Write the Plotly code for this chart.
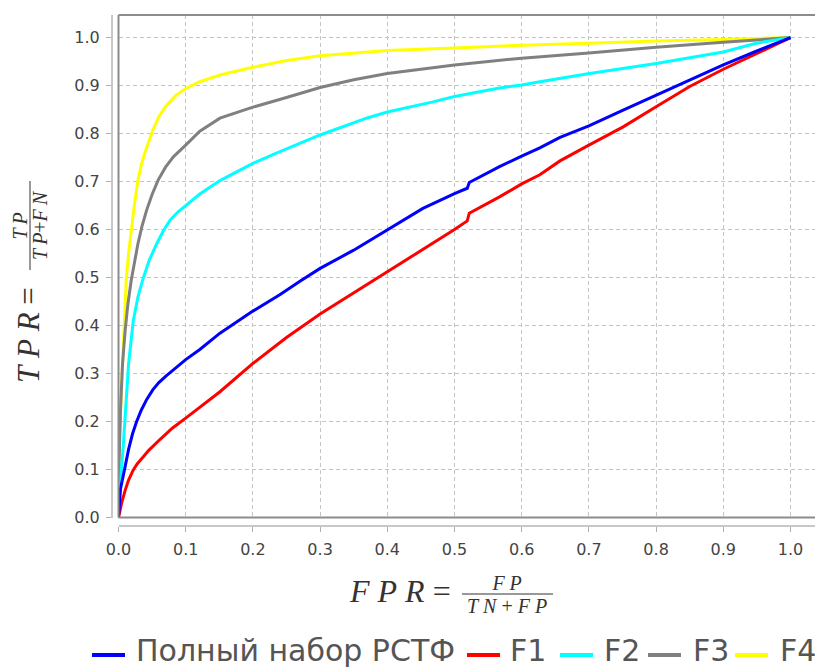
import plotly.graph_objects as go

# ROC curves: false positive rate vs true positive rate for each feature set
full_fpr = [0, 0.003, 0.01, 0.015, 0.021, 0.027, 0.034, 0.042, 0.051, 0.06, 0.071, 0.085, 0.1,
            0.121, 0.151, 0.2, 0.24, 0.27, 0.3, 0.35, 0.4, 0.453, 0.5, 0.519, 0.522, 0.567, 0.6,
            0.627, 0.657, 0.7, 0.751, 0.8, 0.85, 0.9, 0.95, 1.0]
full_tpr = [0, 0.06, 0.107, 0.142, 0.175, 0.2, 0.224, 0.246, 0.266, 0.281, 0.295, 0.312, 0.329,
            0.35, 0.384, 0.43, 0.464, 0.492, 0.519, 0.557, 0.599, 0.644, 0.675, 0.686, 0.698,
            0.731, 0.753, 0.77, 0.792, 0.816, 0.849, 0.88, 0.911, 0.943, 0.972, 1.0]

f1_fpr = [0, 0.002, 0.005, 0.01, 0.015, 0.022, 0.028, 0.036, 0.045, 0.062, 0.08, 0.1, 0.121,
          0.151, 0.2, 0.25, 0.3, 0.349, 0.4, 0.453, 0.5, 0.519, 0.522, 0.567, 0.6, 0.627, 0.657,
          0.7, 0.751, 0.8, 0.85, 0.9, 0.949, 1.0]
f1_tpr = [0, 0.016, 0.032, 0.057, 0.078, 0.099, 0.112, 0.125, 0.14, 0.163, 0.186, 0.207, 0.229,
          0.262, 0.321, 0.375, 0.424, 0.467, 0.512, 0.557, 0.6, 0.618, 0.634, 0.668, 0.695,
          0.714, 0.743, 0.776, 0.814, 0.856, 0.898, 0.934, 0.967, 1.0]

f2_fpr = [0, 0.002, 0.007, 0.011, 0.015, 0.022, 0.029, 0.036, 0.046, 0.057, 0.067, 0.077, 0.088,
          0.1, 0.121, 0.151, 0.2, 0.235, 0.27, 0.3, 0.369, 0.4, 0.468, 0.5, 0.567, 0.6, 0.627,
          0.657, 0.701, 0.8, 0.9, 0.949, 1.0]
f2_tpr = [0, 0.06, 0.147, 0.24, 0.32, 0.41, 0.46, 0.495, 0.537, 0.571, 0.598, 0.62, 0.636,
          0.65, 0.674, 0.702, 0.738, 0.759, 0.78, 0.797, 0.832, 0.845, 0.866, 0.877, 0.895,
          0.901, 0.908, 0.915, 0.925, 0.946, 0.97, 0.988, 1.0]

f3_fpr = [0, 0.001, 0.003, 0.006, 0.01, 0.014, 0.019, 0.024, 0.029, 0.035, 0.042, 0.05, 0.059,
          0.07, 0.082, 0.1, 0.121, 0.151, 0.2, 0.25, 0.3, 0.35, 0.4, 0.5, 0.6, 0.7, 0.8, 0.9,
          0.95, 1.0]
f3_tpr = [0, 0.12, 0.225, 0.32, 0.391, 0.445, 0.495, 0.535, 0.571, 0.607, 0.641, 0.673, 0.703,
          0.73, 0.752, 0.776, 0.805, 0.832, 0.855, 0.875, 0.896, 0.912, 0.925, 0.943, 0.957,
          0.968, 0.98, 0.99, 0.995, 1.0]

f4_fpr = [0, 0.001, 0.005, 0.01, 0.0115, 0.015, 0.019, 0.024, 0.029, 0.034, 0.039, 0.045, 0.051,
          0.06, 0.071, 0.085, 0.1, 0.121, 0.151, 0.2, 0.25, 0.3, 0.4, 0.5, 0.6, 0.7, 0.8, 0.9,
          1.0]
f4_tpr = [0, 0.15, 0.286, 0.426, 0.495, 0.55, 0.599, 0.655, 0.703, 0.735, 0.759, 0.785, 0.807,
          0.835, 0.858, 0.879, 0.894, 0.908, 0.922, 0.938, 0.952, 0.962, 0.973, 0.978, 0.984,
          0.988, 0.993, 0.996, 1.0]

series_names = ["Полный набор РСТФ", "F1", "F2", "F3", "F4"]
series_colors = ["#0000ff", "#ff0000", "#00ffff", "#808080", "#ffff00"]
series_data = [(full_fpr, full_tpr), (f1_fpr, f1_tpr), (f2_fpr, f2_tpr),
               (f3_fpr, f3_tpr), (f4_fpr, f4_tpr)]

tick_vals = [0.0, 0.1, 0.2, 0.3, 0.4, 0.5, 0.6, 0.7, 0.8, 0.9, 1.0]
tick_text = ["0.0", "0.1", "0.2", "0.3", "0.4", "0.5", "0.6", "0.7", "0.8", "0.9", "1.0"]

W, H = 815, 668
ML, MR, MT, MB = 112, 0, 15, 142
PW, PH = W - ML - MR, H - MT - MB


def px(x):
    return (x - ML) / PW


def py(y):
    return (H - MB - y) / PH


fig = go.Figure()
# first series is drawn last so it sits on top
for name, color, (xs, ys) in reversed(list(zip(series_names, series_colors, series_data))):
    fig.add_trace(go.Scatter(x=xs, y=ys, mode="lines", name=name,
                             line=dict(color=color, width=3), showlegend=False))

grid = dict(showgrid=True, gridcolor="#c4c4c4", gridwidth=1, griddash="4px,3px",
            zeroline=False, showline=True, linecolor="#c8c8c8", linewidth=2,
            ticks="outside", ticklen=5, tickcolor="#b0b0b0", tickwidth=1,
            tickvals=tick_vals, ticktext=tick_text,
            tickfont=dict(family="DejaVu Sans", size=16, color="#444444"))

fig.update_layout(
    width=W, height=H,
    margin=dict(l=ML, r=MR, t=MT, b=MB, pad=0),
    paper_bgcolor="white", plot_bgcolor="white",
    xaxis=dict(range=[0, 1.0365], domain=[(118.5 - ML) / PW, 1], anchor="free", position=0,
               ticklabelstandoff=4, **grid),
    yaxis=dict(range=[0, 1.047], domain=[py(517.5), 1], anchor="free", position=0,
               ticklabelstandoff=3, **grid),
)

# plot frame (top, left, bottom)
frame = dict(color="#8c8c8c", width=2)
fig.add_shape(type="line", xref="x domain", yref="y domain", x0=0, x1=1, y0=1, y1=1, line=frame)
fig.add_shape(type="line", xref="x domain", yref="y domain", x0=0, x1=0, y0=0, y1=1, line=frame)
fig.add_shape(type="line", xref="x domain", yref="y domain", x0=0, x1=1, y0=0, y1=0, line=frame)

serif = "Liberation Serif"
math_col = "#333333"
sp = "\u2005"    # letter spacing for math italics
thin = "\u2009"


def sized(s, size):
    return f'<span style="font-size:{size}px">{s}</span>'


# x axis title: FPR = FP / (TN + FP)
fig.add_annotation(x=px(453), y=py(591), xref="paper", yref="paper", xanchor="right",
                   yanchor="middle", showarrow=False,
                   text=f"<i>F{sp}P{sp}R</i>{sp}=",
                   font=dict(family=serif, size=32, color=math_col))
fig.add_annotation(x=px(507), y=py(594), xref="paper", yref="paper", xanchor="center",
                   yanchor="middle", showarrow=False,
                   text=sized(f"<i>F{sp}P</i>", 20) + "<br>"
                   + sized(f"<i>T{sp}N</i> + <i>F{sp}P</i>", 20),
                   font=dict(family=serif, size=17.5, color=math_col))
fig.add_shape(type="line", xref="paper", yref="paper", x0=px(462), x1=px(553),
              y0=py(594), y1=py(594), line=dict(color=math_col, width=1))

# y axis title: TPR = TP / (TP + FN), rotated
fig.add_annotation(x=px(28), y=py(335), xref="paper", yref="paper", xanchor="center",
                   yanchor="middle", showarrow=False, text=f"<i>T{sp}P{sp}R</i>{sp}=",
                   textangle=-90, font=dict(family=serif, size=31, color=math_col))
fig.add_annotation(x=px(30), y=py(225), xref="paper", yref="paper", xanchor="center",
                   yanchor="middle", showarrow=False,
                   text=sized(f"<i>T{thin}P</i>", 20) + "<br>"
                   + sized(f"<i>T{thin}P</i>+<i>F{thin}N</i>", 20),
                   textangle=-90, font=dict(family=serif, size=15, color=math_col))
fig.add_shape(type="line", xref="paper", yref="paper", x0=px(30), x1=px(30),
              y0=py(181), y1=py(270), line=dict(color=math_col, width=1))

# legend row along the bottom
legend_line_x = [92, 467, 560, 648, 735]
legend_text_x = [134, 508, 602, 691, 778]
for name, color, lx, tx in zip(series_names, series_colors, legend_line_x, legend_text_x):
    fig.add_shape(type="line", xref="paper", yref="paper", x0=px(lx), x1=px(lx + 33),
                  y0=py(655), y1=py(655), line=dict(color=color, width=4))
    fig.add_annotation(x=px(tx), y=py(650), xref="paper", yref="paper", xanchor="left",
                       yanchor="middle", showarrow=False, text=name,
                       font=dict(family="DejaVu Sans", size=30, color="#555555"))

fig.write_html("out.html")
